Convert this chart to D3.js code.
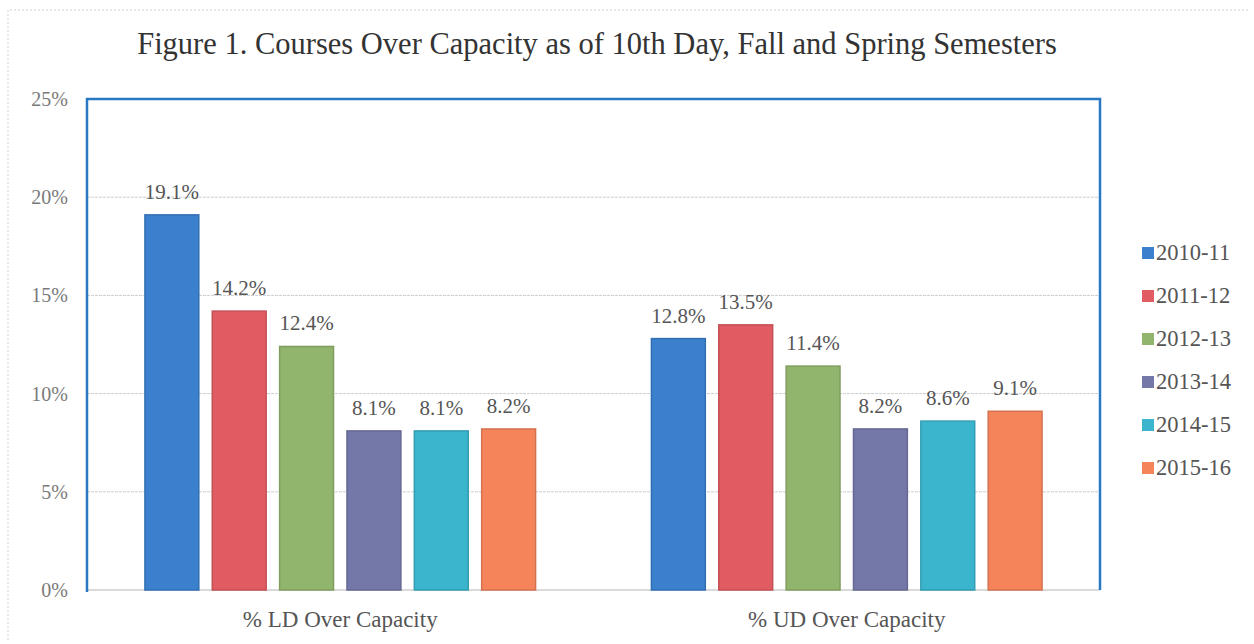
<!DOCTYPE html>
<html>
<head>
<meta charset="utf-8">
<script src="https://cdn.jsdelivr.net/npm/d3@7"></script>
<style>
  html, body { margin: 0; padding: 0; background: #fff; }
  svg { display: block; }
</style>
</head>
<body>
<div id="chart"></div>
<script>
// data
const categories = ['% LD Over Capacity', '% UD Over Capacity'];
const years = ['2010-11', '2011-12', '2012-13', '2013-14', '2014-15', '2015-16'];
const ldValues = [19.1, 14.2, 12.4, 8.1, 8.1, 8.2];
const udValues = [12.8, 13.5, 11.4, 8.2, 8.6, 9.1];
const yTicks = [0, 5, 10, 15, 20, 25];
const colors = ['#3a80cd', '#e15c62', '#92b56d', '#7478a8', '#3ab5cd', '#f5845b'];

const W = 1254, H = 644;
const plot = { left: 87, right: 1100, top: 99, bottom: 590 };
const serif = '"Liberation Serif", "DejaVu Serif", serif';

const rows = categories.map((c, i) => ({
  cat: c,
  vals: years.map((y, j) => ({ year: y, v: (i === 0 ? ldValues : udValues)[j] }))
}));

const svg = d3.select('#chart').append('svg')
  .attr('width', W).attr('height', H)
  .style('font-family', serif);

// faint scan frame
svg.append('path')
  .attr('d', `M8,640 V10 H1250`)
  .attr('fill', 'none')
  .attr('stroke', '#d0d0d0')
  .attr('stroke-dasharray', '2,2');

// title
svg.append('text')
  .attr('x', 597).attr('y', 54)
  .attr('text-anchor', 'middle')
  .attr('font-size', 30.5)
  .attr('fill', '#333')
  .text('Figure 1. Courses Over Capacity as of 10th Day, Fall and Spring Semesters');

const y = d3.scaleLinear().domain([0, 25]).range([plot.bottom, plot.top]);
const x0 = d3.scaleBand().domain(categories).range([plot.left, plot.right]).padding(0);
const x1 = d3.scaleBand().domain(years).range([0, x0.bandwidth()])
  .paddingInner(0.2).paddingOuter(0.86);

// gridlines
svg.append('g')
  .selectAll('line')
  .data(yTicks.filter(t => t < 25))
  .join('line')
  .attr('x1', plot.left).attr('x2', plot.right)
  .attr('y1', d => y(d)).attr('y2', d => y(d))
  .attr('stroke', d => d === 0 ? '#b5b5b5' : '#cdcdcd')
  .attr('stroke-width', 1)
  .attr('stroke-dasharray', d => d === 0 ? null : '3,1');

// y tick labels
svg.append('g')
  .selectAll('text')
  .data(yTicks)
  .join('text')
  .attr('x', 68)
  .attr('y', d => y(d) + 7)
  .attr('text-anchor', 'end')
  .attr('font-size', 20)
  .attr('fill', '#7a7a7a')
  .text(d => d + '%');

// bars
const groups = svg.append('g')
  .selectAll('g')
  .data(rows)
  .join('g')
  .attr('transform', d => `translate(${x0(d.cat)},0)`);

groups.selectAll('rect')
  .data(d => d.vals)
  .join('rect')
  .attr('x', d => x1(d.year))
  .attr('y', d => y(d.v))
  .attr('width', x1.bandwidth())
  .attr('height', d => y(0) - y(d.v))
  .attr('fill', (d, i) => colors[i])
  .attr('stroke', (d, i) => d3.color(colors[i]).darker(0.4))
  .attr('stroke-width', 1.5);

groups.selectAll('text')
  .data(d => d.vals)
  .join('text')
  .attr('x', d => x1(d.year) + x1.bandwidth() / 2)
  .attr('y', d => y(d.v) - 16)
  .attr('text-anchor', 'middle')
  .attr('font-size', 21)
  .attr('fill', '#555')
  .text(d => d.v.toFixed(1) + '%');

// category labels
svg.append('g')
  .selectAll('text')
  .data(categories)
  .join('text')
  .attr('x', d => x0(d) + x0.bandwidth() / 2)
  .attr('y', 627)
  .attr('text-anchor', 'middle')
  .attr('font-size', 23)
  .attr('fill', '#555')
  .text(d => d);

// plot border (blue, open at the bottom)
svg.append('path')
  .attr('d', `M${plot.left},${plot.bottom + 2} V${plot.top} H${plot.right} V${plot.bottom}`)
  .attr('fill', 'none')
  .attr('stroke', '#2a78c2')
  .attr('stroke-width', 2.5);

// legend
const legend = svg.append('g')
  .selectAll('g')
  .data(years)
  .join('g')
  .attr('transform', (d, i) => `translate(1142,${253 + i * 43})`);

legend.append('rect')
  .attr('x', 0).attr('y', -6)
  .attr('width', 12).attr('height', 12)
  .attr('fill', (d, i) => colors[i]);

legend.append('text')
  .attr('x', 14).attr('y', 7)
  .attr('font-size', 22.5)
  .attr('fill', '#555')
  .text(d => d);
</script>
</body>
</html>
